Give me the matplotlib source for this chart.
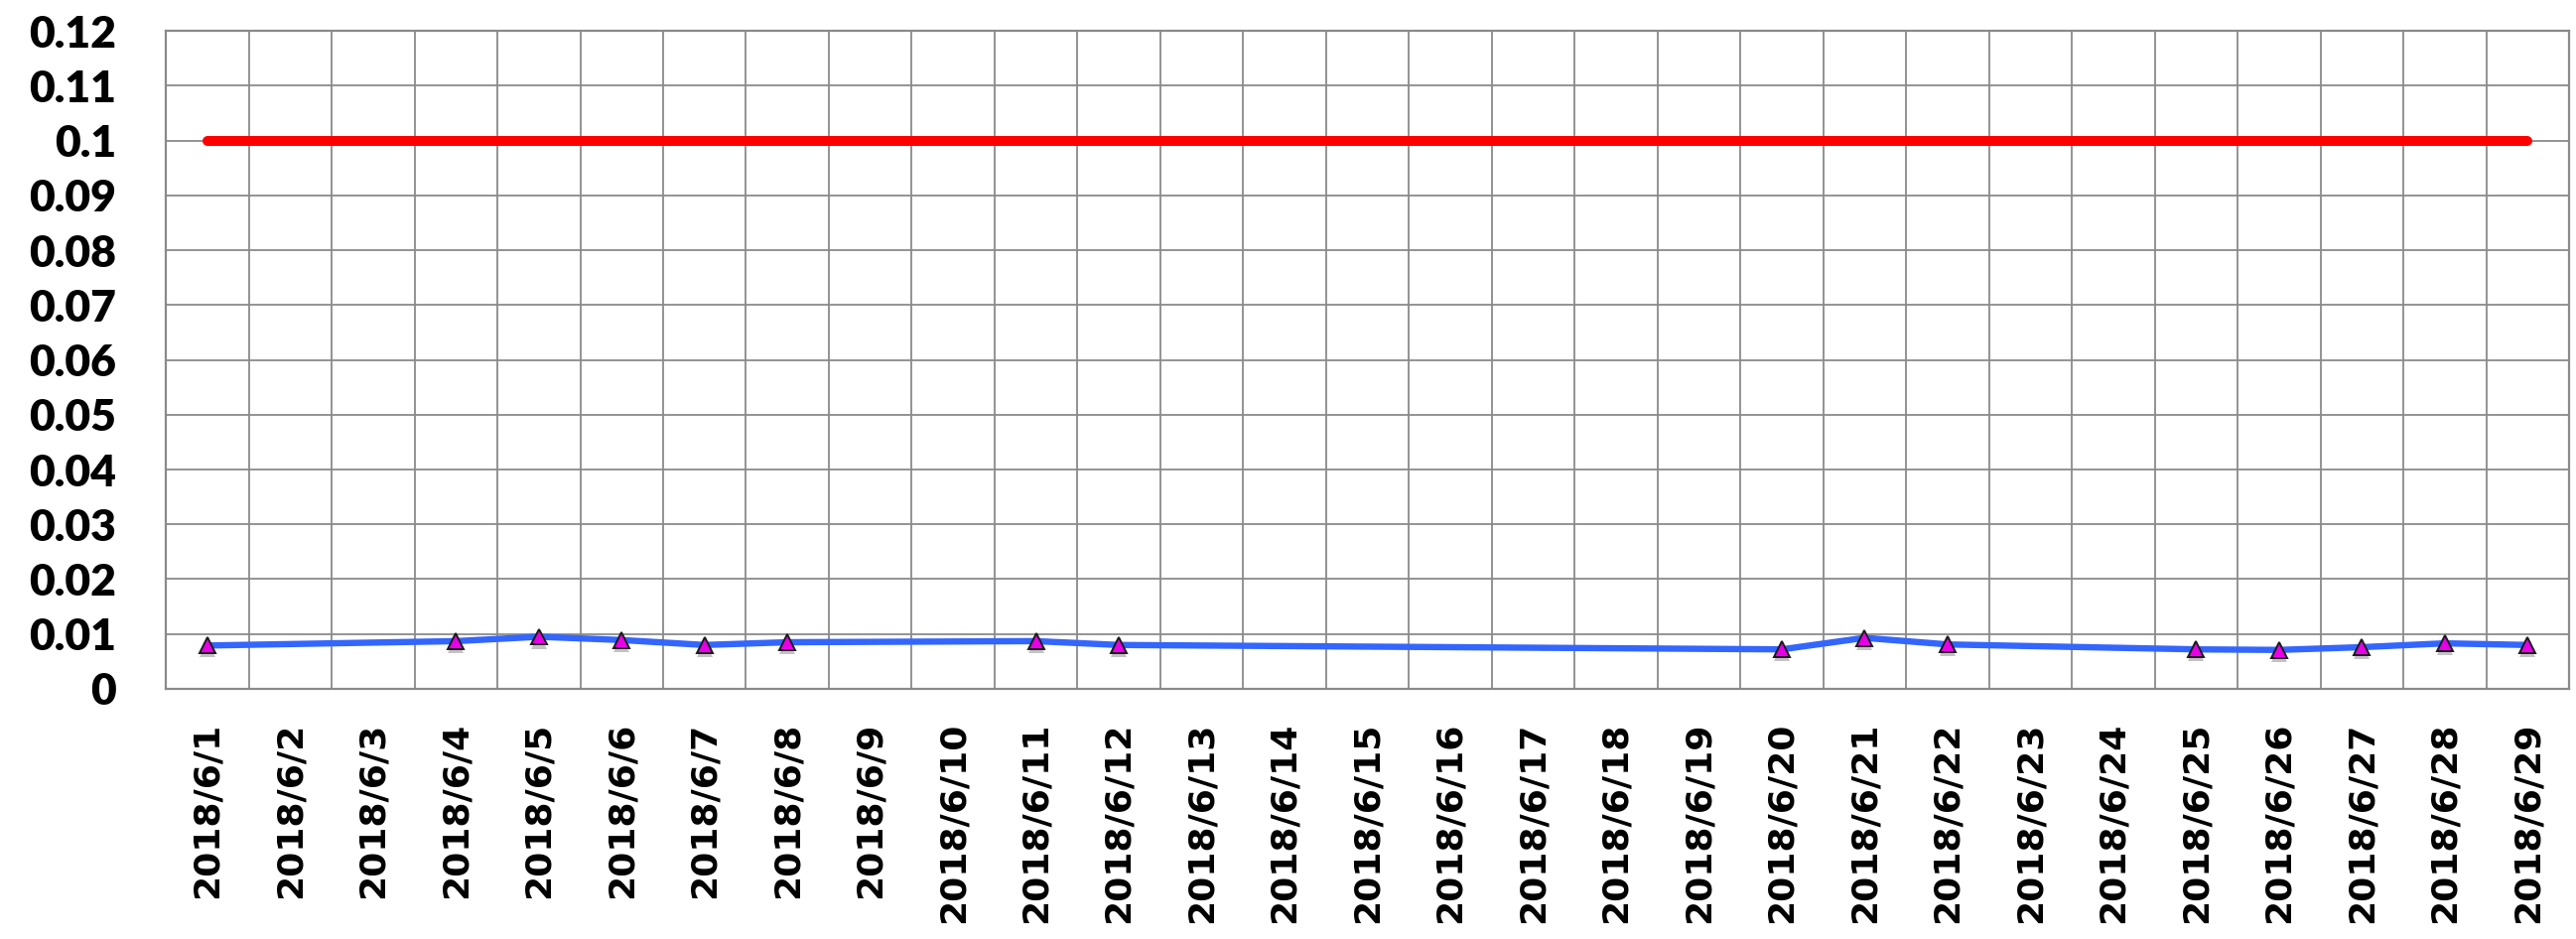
import numpy as np
import matplotlib
matplotlib.use('Agg')
import matplotlib.pyplot as plt
import matplotlib.patheffects as pe

# category labels: every day of June 2018 shown on the axis
dates = [f'2018/6/{d}' for d in range(1, 30)]

# limit line
limit = [0.1] * len(dates)

# measured values (only on days that have a sample)
sample_dates = ['2018/6/1', '2018/6/4', '2018/6/5', '2018/6/6', '2018/6/7', '2018/6/8',
                '2018/6/11', '2018/6/12', '2018/6/20', '2018/6/21', '2018/6/22',
                '2018/6/25', '2018/6/26', '2018/6/27', '2018/6/28', '2018/6/29']
sample_values = [0.0079, 0.0087, 0.0095, 0.0089, 0.0080, 0.0085,
                 0.0087, 0.0080, 0.0072, 0.0093, 0.0081,
                 0.0072, 0.0071, 0.0076, 0.0083, 0.0080]

y_ticks = [0, 0.01, 0.02, 0.03, 0.04, 0.05, 0.06, 0.07, 0.08, 0.09, 0.1, 0.11, 0.12]
y_labels = ['0', '0.01', '0.02', '0.03', '0.04', '0.05', '0.06', '0.07', '0.08', '0.09', '0.1', '0.11', '0.12']

x = np.arange(len(dates))
sx = [dates.index(d) for d in sample_dates]

fig = plt.figure(figsize=(25.95, 9.46), dpi=100)
ax = fig.add_axes([0.0644, 0.2664, 0.9329, 0.7008])

grid_c = '#8a8a8a'
ax.set_xlim(-0.5, len(dates) - 0.5)
ax.set_ylim(0, 0.12)
ax.set_xticks(x)
ax.set_xticks(np.arange(-0.5, len(dates)), minor=True)
ax.set_yticks(y_ticks)
ax.grid(True, which='minor', axis='x', color=grid_c, linewidth=1.3)
ax.grid(True, which='major', axis='y', color=grid_c, linewidth=1.3)
ax.set_axisbelow(True)
for s in ax.spines.values():
    s.set_color(grid_c)
    s.set_linewidth(1.6)
ax.tick_params(which='both', length=0)

ax.plot(x, limit, color='#ff0000', linewidth=7.2, solid_capstyle='round', zorder=3)
ax.plot(sx, sample_values, color='#3366ff', linewidth=4.6, zorder=3)
ax.plot(sx, sample_values, linestyle='none', marker='^', markersize=11.5,
        markerfacecolor='#e600e6', markeredgecolor='#1a1a1a', markeredgewidth=1.4, zorder=4,
        path_effects=[pe.SimplePatchShadow(offset=(0, -3), shadow_rgbFace='#555555', alpha=0.35),
                      pe.Normal()])

ax.set_yticklabels(y_labels, fontfamily='Lato', fontweight='heavy', fontsize=32)
ax.tick_params(axis='y', pad=36)
ax.set_xticklabels(dates, rotation=90, fontfamily='DejaVu Sans', fontweight='bold', fontsize=26)
ax.tick_params(axis='x', pad=24)

fig.savefig('out.png', dpi=100)
